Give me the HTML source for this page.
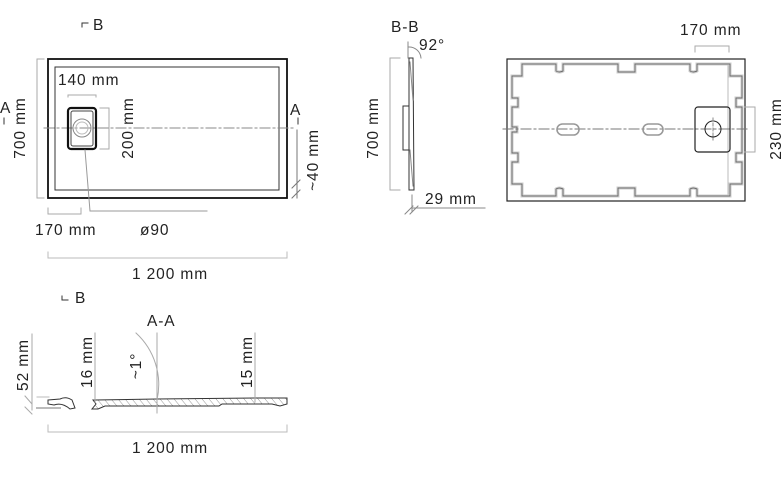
<!DOCTYPE html>
<html><head><meta charset="utf-8"><style>
html,body{margin:0;padding:0;background:#fff}
svg{display:block}
text{font-family:"Liberation Sans",sans-serif;fill:#222;font-size:15.5px;letter-spacing:0.9px}
</style></head><body>
<svg width="784" height="484" viewBox="0 0 784 484" xmlns="http://www.w3.org/2000/svg">
<defs>
<pattern id="h" width="7" height="8" patternUnits="userSpaceOnUse" patternTransform="skewX(40)">
<line x1="0" y1="0" x2="0" y2="8" stroke="#555" stroke-width="0.8"/>
</pattern>
</defs>
<g fill="none" stroke-linecap="square">
<rect x="48" y="59" width="239" height="139" stroke="#111" stroke-width="1.8"/>
<rect x="55" y="67" width="224" height="123" stroke="#333" stroke-width="1"/>
<line x1="37" y1="59" x2="37" y2="198" stroke="#aaa"/>
<line x1="37" y1="59" x2="44" y2="59" stroke="#aaa"/><line x1="37" y1="198" x2="44" y2="198" stroke="#aaa"/>
<line x1="44" y1="128" x2="296" y2="128" stroke="#888" stroke-dasharray="10,3,2,3"/>
<rect x="68" y="108" width="28" height="41" rx="3" stroke="#111" stroke-width="2.2"/>
<rect x="71" y="111" width="22" height="35" rx="2" stroke="#444"/>
<circle cx="82" cy="128" r="9" stroke="#888"/>
<circle cx="82" cy="128" r="6" stroke="#bbb"/>
<path d="M68 97 V95 H96 V97" stroke="#aaa"/>
<path d="M100 108 H109 V149 H100" stroke="#aaa"/>
<path d="M85 150 L90 211 H207" stroke="#999"/>
<path d="M48 208 V214 H81 V208" stroke="#aaa"/>
<path d="M48 252 V258 H287 V252" stroke="#bbb"/>
<path d="M4 118 V124 M298 118 V124" stroke="#333"/>
<path d="M297 130 V198 M292 188 L300 180 M292 198 L300 190" stroke="#777"/>
<path d="M82 27 V23 H88" stroke="#333"/>
<path d="M409 58 L413 58 L414 190 L409 190 Z" stroke="#333"/>
<path d="M409 106 L403 106 L403 150 L409 150" stroke="#333"/>
<path d="M410 62 L413 100 M410 150 L413 186" stroke="#888"/>
<path d="M390 58 H400 M390 190 H400 M390 58 V190" stroke="#aaa"/>
<path d="M412 195 V212 M412 208 H485 M405 214 L413 206 M410 214 L418 206" stroke="#888"/>
<path d="M408 42 V58 M408 47 A12 12 0 0 1 421 58" stroke="#888"/>
<rect x="507" y="59" width="238" height="142" stroke="#222" stroke-width="1.2"/>
<path d="M522 64 H556 V71 Q559 73 563 71 V64 H618 V72 H635 V64 H690 V71 Q693 73 697 71 V64 H730 V76 H742 V98 H736 V107 H742 V153 H736 V162 H742 V184 H730 V196 H697 V189 Q693 187 690 189 V196 H635 V188 H618 V196 H563 V189 Q559 187 556 189 V196 H522 V184 H512 V162 H518 V153 H512 V132 H517 V127 H512 V107 H518 V98 H512 V76 H522 Z" stroke="#ccc" stroke-width="3"/>
<path d="M522 64 H556 V71 Q559 73 563 71 V64 H618 V72 H635 V64 H690 V71 Q693 73 697 71 V64 H730 V76 H742 V98 H736 V107 H742 V153 H736 V162 H742 V184 H730 V196 H697 V189 Q693 187 690 189 V196 H635 V188 H618 V196 H563 V189 Q559 187 556 189 V196 H522 V184 H512 V162 H518 V153 H512 V132 H517 V127 H512 V107 H518 V98 H512 V76 H522 Z" stroke="#555" stroke-width="0.7"/>
<line x1="728" y1="66" x2="728" y2="194" stroke="#bbb"/>
<line x1="503" y1="129" x2="748" y2="129" stroke="#777" stroke-dasharray="10,3,2,3"/>
<rect x="695" y="107" width="35" height="45" rx="3" stroke="#222" stroke-width="1.2"/>
<circle cx="713" cy="129" r="8" stroke="#222"/>
<line x1="713" y1="118" x2="713" y2="140" stroke="#888" stroke-dasharray="3,2"/>
<rect x="557" y="124" width="22" height="11" rx="5.5" stroke="#999" stroke-width="1.6"/>
<rect x="643" y="124" width="20" height="11" rx="5.5" stroke="#999" stroke-width="1.6"/>
<path d="M695 52 V46 H729 V52" stroke="#aaa"/>
<path d="M745 107 H755 V152 H745" stroke="#aaa"/>
<path d="M95 400 L157 399 L255 398 L287 398 L287 404 L280 406 L272 404 L222 404 L219 406 L105 406 L98 409 L92 409 L96 404 L93 400 Z" fill="url(#h)" stroke="#333"/>
<path d="M48 400 L60 399 Q66 396 72 400 L75 408 L70 409 Q62 402 54 405 L48 404 Z" stroke="#333"/>
<path d="M37 408 H60" stroke="#bbb" stroke-width="2"/>
<path d="M37 397 H49" stroke="#bbb"/>
<path d="M32 334 V410 M25 396 L32 404 M25 407 L32 414" stroke="#aaa"/>
<path d="M95 333 V402 M255 333 V402 M157 333 V413" stroke="#aaa"/>
<path d="M136 333 A70 70 0 0 1 157 400" stroke="#aaa"/>
<path d="M48 425 V432 H287 V425" stroke="#bbb"/>
<path d="M62 296 V300 H68" stroke="#333"/>
</g>
<g>
<text x="93" y="30">B</text>
<text x="58" y="85">140 mm</text>
<text transform="translate(133,128) rotate(-90)" text-anchor="middle">200 mm</text>
<text transform="translate(25,128) rotate(-90)" text-anchor="middle">700 mm</text>
<text x="0" y="113" font-size="14">A</text>
<text x="290" y="115" font-size="14">A</text>
<text transform="translate(318,160) rotate(-90)" text-anchor="middle">~40 mm</text>
<text x="35" y="235">170 mm</text>
<text x="140" y="235">ø90</text>
<text x="170" y="279" text-anchor="middle">1 200 mm</text>
<text x="391" y="32">B-B</text>
<text x="419" y="50">92°</text>
<text transform="translate(378,128) rotate(-90)" text-anchor="middle">700 mm</text>
<text x="425" y="204">29 mm</text>
<text x="680" y="35">170 mm</text>
<text transform="translate(781,129) rotate(-90)" text-anchor="middle">230 mm</text>
<text x="75" y="303">B</text>
<text x="147" y="326">A-A</text>
<text transform="translate(28,365) rotate(-90)" text-anchor="middle">52 mm</text>
<text transform="translate(92,362) rotate(-90)" text-anchor="middle">16 mm</text>
<text transform="translate(252,362) rotate(-90)" text-anchor="middle">15 mm</text>
<text transform="translate(141,366) rotate(-90)" text-anchor="middle">~1°</text>
<text x="170" y="453" text-anchor="middle">1 200 mm</text>
</g>
</svg>
</body></html>
